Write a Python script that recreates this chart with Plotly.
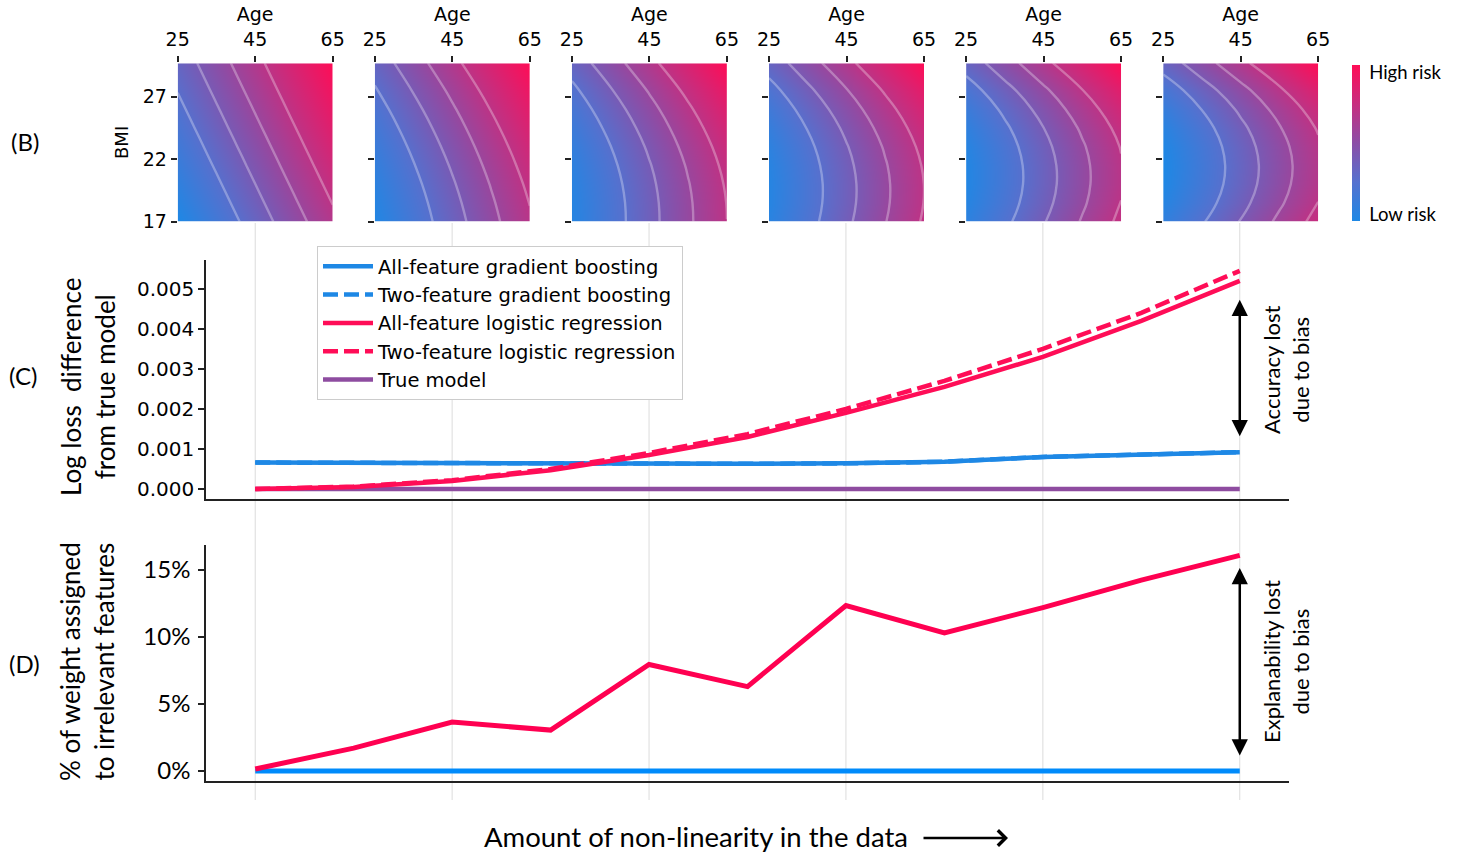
import plotly.graph_objects as go

W, H = 1458, 852


def fx(p):
    return p / W


def fy(p):
    return 1 - p / H


DJ = "DejaVu Sans"
MY = "Lato"

# ---------------- data ----------------
nonlinearity = [0, 1, 2, 3, 4, 5, 6, 7, 8, 9, 10]

# (C) log loss difference from true model
gb_all = [0.00066, 0.00065, 0.00065, 0.00064, 0.00064, 0.00063, 0.00064, 0.00068, 0.00080, 0.00087, 0.00092]
gb_two = [0.00066, 0.00065, 0.00065, 0.00064, 0.00064, 0.00063, 0.00064, 0.00068, 0.00080, 0.00087, 0.00092]
lr_all = [0.0, 0.00005, 0.00020, 0.00047, 0.00085, 0.00130, 0.00190, 0.00255, 0.00330, 0.00420, 0.00520]
lr_two = [0.0, 0.00006, 0.00022, 0.00050, 0.00090, 0.00137, 0.00200, 0.00270, 0.00350, 0.00440, 0.00545]
true_model = [0, 0, 0, 0, 0, 0, 0, 0, 0, 0, 0]

# (D) % of weight assigned to irrelevant features
lr_irrelevant = [0.15, 1.7, 3.65, 3.05, 7.95, 6.3, 12.35, 10.3, 12.2, 14.25, 16.1]
gb_irrelevant = [0, 0, 0, 0, 0, 0, 0, 0, 0, 0, 0]
pct_ticks = [0, 5, 10, 15]
pct_labels = ["0%", "5%", "10%", "15%"]

# (B) risk surfaces: risk = age part + BMI part, one BMI profile per panel
ages = [25, 35, 45, 55, 65]
age_risk = [0, 10, 20, 30, 40]
bmis = [17, 18.5, 20, 21.5, 23, 24.5, 26, 27.5, 29.7]
bmi_risk_1 = [0.00, 2.33, 4.65, 6.98, 9.30, 11.63, 13.95, 16.28, 19.69]
bmi_risk_2 = [1.04, 2.30, 3.81, 5.58, 7.60, 9.87, 12.40, 15.17, 19.70]
bmi_risk_3 = [2.07, 2.28, 2.98, 4.19, 5.90, 8.13, 10.85, 14.07, 19.71]
bmi_risk_4 = [3.11, 2.25, 2.14, 2.80, 4.21, 6.37, 9.29, 12.97, 19.74]
bmi_risk_5 = [4.14, 2.23, 1.31, 1.41, 2.51, 4.63, 7.74, 11.87, 19.75]
bmi_risk_6 = [5.18, 2.20, 0.47, 0.01, 0.81, 2.87, 6.19, 10.76, 19.76]
panels = [bmi_risk_1, bmi_risk_2, bmi_risk_3, bmi_risk_4, bmi_risk_5, bmi_risk_6]

BLUE_C = "#1E88E5"
RED_C = "#FF0D57"
PURPLE = "#8E4CA0"
BLUE_D = "#008BFB"
RED_D = "#FF0051"

risk_scale = [
    [0.0, "#1E88E5"],
    [0.25, "#5571CF"],
    [0.5, "#8C4EA7"],
    [0.75, "#C72E7F"],
    [1.0, "#FF0D57"],
]

fig = go.Figure()

# ---------------- (B) heatmaps ----------------
panel_w = 155
panel_step = 197.1
panel_left0 = 177.7
for k, br in enumerate(panels):
    z = [[a + b for a in age_risk] for b in br]
    xa, ya = f"x{k + 3}", f"y{k + 3}"
    fig.add_trace(go.Heatmap(x=ages, y=bmis, z=z, coloraxis="coloraxis", zsmooth="best",
                             xaxis=xa, yaxis=ya, hoverinfo="skip"))
    fig.add_trace(go.Contour(x=ages, y=bmis, z=z, autocontour=False,
                             contours=dict(coloring="none", start=16, end=42.2, size=8.7),
                             line=dict(color="rgba(255,255,255,0.3)", width=2.4, smoothing=1.3),
                             showscale=False, showlegend=False, xaxis=xa, yaxis=ya, hoverinfo="skip"))

# ---------------- (C) ----------------
fig.add_trace(go.Scatter(x=nonlinearity, y=true_model, mode="lines", name="True model",
                         line=dict(color=PURPLE, width=4.5), legendrank=5))
fig.add_trace(go.Scatter(x=nonlinearity, y=gb_two, mode="lines", name="Two-feature gradient boosting",
                         line=dict(color=BLUE_C, width=4.5, dash="15px,6px"), legendrank=2))
fig.add_trace(go.Scatter(x=nonlinearity, y=gb_all, mode="lines", name="All-feature gradient boosting",
                         line=dict(color=BLUE_C, width=4.5), legendrank=1))
fig.add_trace(go.Scatter(x=nonlinearity, y=lr_all, mode="lines", name="All-feature logistic regression",
                         line=dict(color=RED_C, width=4.5), legendrank=3))
fig.add_trace(go.Scatter(x=nonlinearity, y=lr_two, mode="lines", name="Two-feature logistic regression",
                         line=dict(color=RED_C, width=4.5, dash="15px,6px"), legendrank=4))

# ---------------- (D) ----------------
fig.add_trace(go.Scatter(x=nonlinearity, y=gb_irrelevant, mode="lines", showlegend=False,
                         line=dict(color=BLUE_D, width=5), xaxis="x2", yaxis="y2"))
fig.add_trace(go.Scatter(x=nonlinearity, y=lr_irrelevant, mode="lines", showlegend=False,
                         line=dict(color=RED_D, width=5), xaxis="x2", yaxis="y2"))

layout = dict(
    width=W, height=H,
    margin=dict(l=0, r=0, t=0, b=0, pad=0, autoexpand=False),
    paper_bgcolor="white", plot_bgcolor="rgba(0,0,0,0)",
    font=dict(family=DJ, color="black"),
    legend=dict(x=fx(317), y=fy(246), xanchor="left", yanchor="top",
                bgcolor="white", bordercolor="#cccccc", borderwidth=1,
                font=dict(family=DJ, size=19.5), traceorder="normal", itemwidth=50),
    coloraxis=dict(cmin=0, cmax=59.7, colorscale=risk_scale,
                   colorbar=dict(x=fx(1352), xanchor="left", xpad=0, ypad=0,
                                 y=fy(221), yanchor="bottom", len=156, lenmode="pixels",
                                 thickness=8, thicknessmode="pixels", outlinewidth=0,
                                 tickvals=[2.3, 56.8], ticktext=["Low risk", "High risk"],
                                 ticks="outside", ticklen=6, tickcolor="rgba(0,0,0,0)",
                                 tickfont=dict(family=MY, size=18.5))),
)

common_x = dict(range=[-0.5, 10.5], showline=True, linecolor="#222", linewidth=1.5,
                showticklabels=False, ticks="", showgrid=False, zeroline=False)
layout["xaxis"] = dict(domain=[fx(206), fx(1289)], anchor="y", **common_x)
layout["xaxis2"] = dict(domain=[fx(206), fx(1289)], anchor="y2", **common_x)
layout["yaxis"] = dict(domain=[fy(499), fy(260)], anchor="x", range=[-0.00025, 0.00572],
                       showline=True, linecolor="#222", linewidth=1.5, ticks="outside", ticklen=6,
                       tickwidth=1.5, tickcolor="#222", tickvals=[0, 0.001, 0.002, 0.003, 0.004, 0.005],
                       tickformat=".3f", tickfont=dict(family=DJ, size=20),
                       showgrid=False, zeroline=False)
layout["yaxis2"] = dict(domain=[fy(781), fy(545)], anchor="x2", range=[-0.75, 16.87],
                        showline=True, linecolor="#222", linewidth=1.5, ticks="outside", ticklen=6,
                        tickwidth=1.5, tickcolor="#222", tickmode="array",
                        tickvals=pct_ticks, ticktext=pct_labels, ticklabelstandoff=3,
                        tickfont=dict(family=MY, size=24), showgrid=False, zeroline=False)

for k in range(6):
    x0 = panel_left0 + k * panel_step
    layout[f"xaxis{k + 3}"] = dict(domain=[fx(x0), fx(x0 + panel_w)], anchor=f"y{k + 3}",
                                   range=[25, 65], side="top", tickvals=[25, 45, 65],
                                   ticks="outside", ticklen=6, tickwidth=1.5, tickcolor="#222",
                                   showline=False, showgrid=False, zeroline=False,
                                   ticklabelstandoff=3,
                                   tickfont=dict(family=DJ, size=19),
                                   title=dict(text="Age", font=dict(family=DJ, size=19), standoff=1))
    layout[f"yaxis{k + 3}"] = dict(domain=[fy(221.7), fy(63.3)], anchor=f"x{k + 3}",
                                   range=[17, 29.67], tickvals=[17, 22, 27],
                                   ticks="outside", ticklen=6, tickwidth=1.5, tickcolor="#222",
                                   showticklabels=(k == 0), showline=False, showgrid=False,
                                   zeroline=False, tickfont=dict(family=DJ, size=19))

fig.update_layout(**layout)

# vertical guide lines through (C) and (D)
for gx in [0, 2, 4, 6, 8, 10]:
    fig.add_shape(type="line", xref="x", yref="paper", x0=gx, x1=gx, y0=fy(800), y1=fy(223),
                  line=dict(color="#dcdcdc", width=1), layer="below")


def note(px, py, text, size, family=MY, angle=0):
    return dict(x=fx(px), y=fy(py), xref="paper", yref="paper", text=text, textangle=angle,
                showarrow=False, xanchor="center", yanchor="middle",
                font=dict(family=family, size=size))


ann = [
    note(121, 143, "BMI", 18, DJ, -90),
    note(25, 141, "(B)", 24),
    note(23, 375, "(C)", 24),
    note(24, 663, "(D)", 24),
    note(88, 387, "Log loss  difference<br>from true model", 26, MY, -90),
    note(87, 662, "% of weight assigned<br>to irrelevant features", 26, MY, -90),
    note(1286, 370, "Accuracy lost<br>due to bias", 22, MY, -90),
    note(1286, 662, "Explanability lost<br>due to bias", 22, MY, -90),
    note(696, 836, "Amount of non-linearity in the data", 27.5),
]
ann.append(dict(x=fx(1008), y=fy(838), xref="paper", yref="paper", text="", showarrow=True,
                ax=-86, ay=0, axref="pixel", ayref="pixel", arrowhead=4, arrowsize=1.2,
                arrowwidth=2.5, arrowcolor="black"))
# double arrows
ann.append(dict(x=10, y=0.00473, xref="x", yref="y", ax=10, ay=0.00128, axref="x", ayref="y",
                text="", showarrow=True, arrowside="end+start", arrowhead=2, startarrowhead=2,
                arrowsize=1.3, startarrowsize=1.3, arrowwidth=2.5, arrowcolor="black"))
ann.append(dict(x=10, y=15.15, xref="x2", yref="y2", ax=10, ay=1.04, axref="x2", ayref="y2",
                text="", showarrow=True, arrowside="end+start", arrowhead=2, startarrowhead=2,
                arrowsize=1.3, startarrowsize=1.3, arrowwidth=2.5, arrowcolor="black"))
fig.update_layout(annotations=ann)

fig.write_html("out.html", config={"displayModeBar": False},
               post_script="document.body.style.margin='0';document.body.style.overflow='hidden';")
